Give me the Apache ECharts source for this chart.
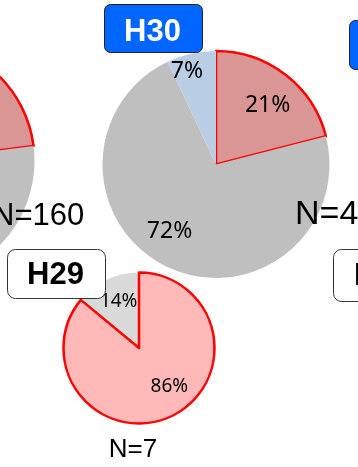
<!DOCTYPE html>
<html>
<head>
<meta charset="utf-8">
<script src="https://cdn.jsdelivr.net/npm/echarts@6/dist/echarts.min.js"></script>
<style>
  html, body { margin: 0; padding: 0; background: #fff; }
  #chart { width: 358px; height: 467px; }
</style>
</head>
<body>
<div id="chart"></div>
<script>
// Share of responses per year (percent)
const sliceNames = ['該当', 'その他', '不明'];
const prevValues = [23, 70, 7];      // left pie, N=160
const h30Values = [21, 72, 7];       // H30
const h29Names = ['その他', '該当'];
const h29Values = [14, 86];          // H29 (other first, so the outlined slice sits on top)

const yearLabels = ['H30', 'H29', 'H28'];
const countLabels = ['N=160', 'N=43', 'N=7'];

// Slice fills
const fillsTop = ['#D99694', '#BFBFBF', '#B9CDE5'];
const fillsH29 = ['#D9D9D9', '#FFB9B9'];
const outline = '#FF0000';

// Fine-tuning of inside label placement (pixels)
const h30Shift = [[15, -12], [-21, 13], [-16, -35]];
const h29Shift = [[-3, -10], [13, 2]];

const chart = echarts.init(document.getElementById('chart'), null, { renderer: 'canvas' });

function items(values, names, fills, outlinedIndex) {
  return values.map((v, i) => ({
    value: v,
    name: names[i],
    itemStyle: {
      color: fills[i],
      borderColor: i === outlinedIndex ? outline : 'rgba(0,0,0,0)',
      borderWidth: i === outlinedIndex ? 2.5 : 0
    }
  }));
}

const pctLabel = (size) => ({
  show: true,
  position: 'inside',
  formatter: '{c}%',
  fontSize: size,
  fontFamily: 'Noto Sans',
  color: '#000',
  textBorderWidth: 0
});

const basePie = {
  type: 'pie',
  silent: true,
  animation: false,
  avoidLabelOverlap: false,
  clockwise: true,
  labelLine: { show: false },
  emphasis: { disabled: true }
};

chart.setOption({
  animation: false,
  backgroundColor: '#fff',
  series: [
    Object.assign({}, basePie, {
      center: [-85, 161],
      radius: 119.5,
      startAngle: 90,
      data: items(prevValues, sliceNames, fillsTop, 0),
      label: pctLabel(23)
    }),
    Object.assign({}, basePie, {
      center: [216, 164.5],
      radius: 113.5,
      startAngle: 90,
      data: items(h30Values, sliceNames, fillsTop, 0),
      label: pctLabel(23),
      labelLayout: (p) => ({ dx: h30Shift[p.dataIndex][0], dy: h30Shift[p.dataIndex][1] })
    }),
    Object.assign({}, basePie, {
      center: [139, 348],
      radius: 75.5,
      startAngle: 90 + h29Values[0] * 3.6,
      data: items(h29Values, h29Names, fillsH29, 1),
      label: pctLabel(19),
      labelLayout: (p) => ({ dx: h29Shift[p.dataIndex][0], dy: h29Shift[p.dataIndex][1] })
    })
  ],
  graphic: [
    // year badges
    { type: 'rect', z: 100, shape: { x: 104.5, y: 4.5, width: 98, height: 48, r: 6 },
      style: { fill: '#0066FF', stroke: '#222', lineWidth: 1 } },
    { type: 'text', z: 101, x: 152.5, y: 32,
      style: { text: yearLabels[0], fill: '#fff', font: 'bold 31px "Liberation Sans"',
               align: 'center', verticalAlign: 'middle', textAlign: 'center', textVerticalAlign: 'middle' } },
    { type: 'rect', z: 100, shape: { x: 349.5, y: 20.5, width: 98, height: 49, r: 6 },
      style: { fill: '#0066FF', stroke: '#222', lineWidth: 1 } },
    { type: 'rect', z: 100, shape: { x: 7.5, y: 249.5, width: 98, height: 49, r: 8 },
      style: { fill: '#fff', stroke: '#333', lineWidth: 1 } },
    { type: 'text', z: 101, x: 55.5, y: 275.5,
      style: { text: yearLabels[1], fill: '#000', font: 'bold 31px "Liberation Sans"',
               align: 'center', verticalAlign: 'middle', textAlign: 'center', textVerticalAlign: 'middle' } },
    { type: 'rect', z: 100, shape: { x: 333.5, y: 249.5, width: 98, height: 52, r: 8 },
      style: { fill: '#fff', stroke: '#333', lineWidth: 1 } },
    { type: 'text', z: 101, x: 382.5, y: 276.5,
      style: { text: yearLabels[2], fill: '#000', font: 'bold 31px "Liberation Sans"',
               align: 'center', verticalAlign: 'middle', textAlign: 'center', textVerticalAlign: 'middle' } },
    // sample sizes
    { type: 'text', z: 101, x: -8, y: 216,
      style: { text: countLabels[0], fill: '#000', font: '31px "Liberation Sans"',
               align: 'left', verticalAlign: 'middle', textAlign: 'left', textVerticalAlign: 'middle' } },
    { type: 'text', z: 101, x: 295, y: 215,
      style: { text: countLabels[1], fill: '#000', font: '34px "Liberation Sans"',
               align: 'left', verticalAlign: 'middle', textAlign: 'left', textVerticalAlign: 'middle' } },
    { type: 'text', z: 101, x: 133, y: 450,
      style: { text: countLabels[2], fill: '#000', font: '26px "Liberation Sans"',
               align: 'center', verticalAlign: 'middle', textAlign: 'center', textVerticalAlign: 'middle' } }
  ]
});
</script>
</body>
</html>
